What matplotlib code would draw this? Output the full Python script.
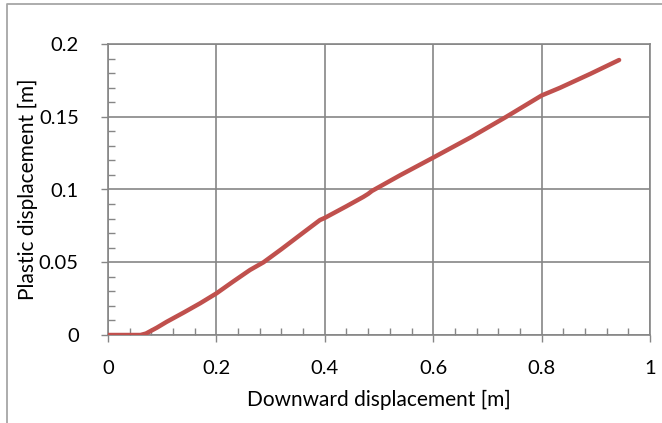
import matplotlib.pyplot as plt
from matplotlib.lines import Line2D
from matplotlib.ticker import MultipleLocator

# Curve (downward vs plastic displacement, m)
downward = [0, 0.03, 0.06, 0.07, 0.08, 0.09, 0.108, 0.14, 0.17, 0.2, 0.23,
            0.262, 0.287, 0.32, 0.36, 0.391, 0.4, 0.44, 0.471, 0.48, 0.487,
            0.539, 0.6, 0.67, 0.735, 0.8, 0.834, 0.89, 0.943]
plastic = [0, 0, 0, 0.001, 0.003, 0.005, 0.009, 0.0155, 0.0218, 0.0286, 0.0365,
           0.0447, 0.050, 0.059, 0.0703, 0.079, 0.0805, 0.0885, 0.0949, 0.097, 0.099,
           0.1098, 0.1219, 0.136, 0.150, 0.1646, 0.1699, 0.1795, 0.189]

x_ticks = [0, 0.2, 0.4, 0.6, 0.8, 1]
x_labels = ["0", "0.2", "0.4", "0.6", "0.8", "1"]
y_ticks = [0, 0.05, 0.1, 0.15, 0.2]
y_labels = ["0", "0.05", "0.1", "0.15", "0.2"]

plt.rcParams["font.family"] = ["Lato", "DejaVu Sans"]
grey = "#868686"

fig = plt.figure(figsize=(6.62, 4.23), dpi=100)
ax = fig.add_axes([108 / 662, 1 - 335 / 423, 542 / 662, 291 / 423])

ax.plot(downward, plastic, color="#C0504D", linewidth=3.2, solid_capstyle="round", zorder=3)

ax.set_xlim(0, 1)
ax.set_ylim(0, 0.2)
ax.set_xticks(x_ticks)
ax.set_xticklabels(x_labels)
ax.set_yticks(y_ticks)
ax.set_yticklabels(y_labels)
ax.xaxis.set_minor_locator(MultipleLocator(0.04))
ax.yaxis.set_minor_locator(MultipleLocator(0.01))

ax.grid(True, which="major", color=grey, linewidth=1.2)
ax.tick_params(which="major", direction="out", length=5, width=1, color=grey,
               labelsize=14.5, pad=13)
ax.tick_params(which="minor", direction="in", length=5, width=1, color=grey)
ax.tick_params(axis="y", which="major", pad=16)
for s in ax.spines.values():
    s.set_color(grey)
    s.set_linewidth(1.2)

ax.set_xlabel("Downward displacement [m]", fontsize=15, labelpad=9)
ax.set_ylabel("Plastic displacement [m]", fontsize=15)
ax.yaxis.set_label_coords(-0.13, 0.5)

# chart area border (cropped on the right and bottom)
fig.add_artist(Line2D([7 / 662, 7 / 662, 1], [0, 1 - 4 / 423, 1 - 4 / 423],
                      transform=fig.transFigure, color="#A6A6A6", linewidth=1.3))

fig.savefig("out.png", dpi=100)
